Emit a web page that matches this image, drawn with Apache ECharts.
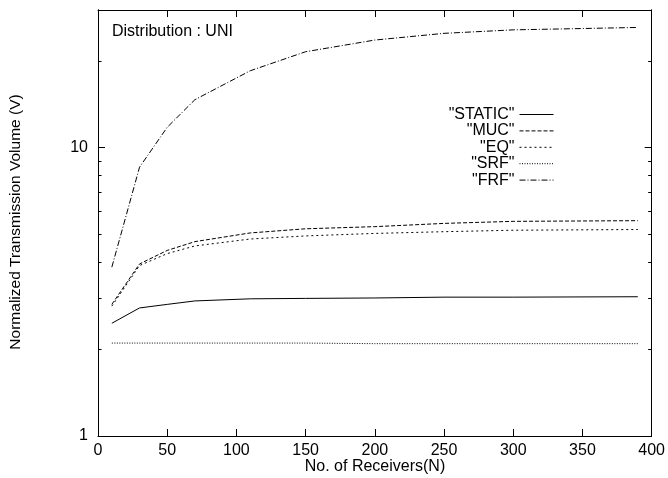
<!DOCTYPE html>
<html>
<head>
<meta charset="utf-8">
<script src="https://cdn.jsdelivr.net/npm/echarts@6/dist/echarts.min.js"></script>
<style>html,body{margin:0;padding:0;background:#fff}#c{width:668px;height:478px}</style>
</head>
<body>
<div id="c"></div>
<script>
const receivers = [10, 30, 50, 70, 110, 150, 200, 250, 300, 390];
const staticV = [2.46, 2.78, 2.86, 2.94, 2.99, 3.00, 3.01, 3.03, 3.03, 3.04];
const mucV    = [2.86, 3.95, 4.40, 4.72, 5.06, 5.23, 5.32, 5.46, 5.55, 5.58];
const eqV     = [2.82, 3.90, 4.29, 4.56, 4.82, 4.94, 5.04, 5.11, 5.17, 5.20];
const srfV    = [2.10, 2.10, 2.10, 2.10, 2.10, 2.10, 2.09, 2.09, 2.09, 2.09];
const frfV    = [3.85, 8.55, 11.76, 14.66, 18.47, 21.5, 23.6, 24.9, 25.6, 26.1];
const seriesNames = ['"STATIC"', '"MUC"', '"EQ"', '"SRF"', '"FRF"'];
const xTicks = [0, 50, 100, 150, 200, 250, 300, 350, 400];
const yMajor = [1, 10];
const yMinor = [2, 3, 4, 5, 6, 7, 8, 9, 20];
const title = 'Distribution : UNI';
const xName = 'No. of Receivers(N)';
const yName = 'Normalized Transmission Volume (V)';

const FONT = 'Liberation Sans, Arial, Helvetica, sans-serif';
const dashes = ['solid', [4, 2], [2, 3], [1, 1.5], [6, 2, 1, 2]];
const allVals = [staticV, mucV, eqV, srfV, frfV];

function pairs(v) { return receivers.map((x, i) => [x, v[i]]); }

const chart = echarts.init(document.getElementById('c'), null, {renderer: 'canvas'});

function yAx(pos, ticks, len, labels) {
  return {
    type: 'log', logBase: 10, min: 1, max: 30, position: pos,
    axisLine: {show: true, lineStyle: {color: '#000', width: 1}},
    axisTick: {show: true, inside: true, length: len, customValues: ticks, lineStyle: {color: '#000', width: 1}},
    axisLabel: labels ? {show: true, customValues: yMajor, margin: 10, color: '#000', fontSize: 16, fontFamily: FONT,
      formatter: v => String(Math.round(v))} : {show: false},
    splitLine: {show: false}, minorTick: {show: false}
  };
}

const legends = seriesNames.map((n, i) => ({
  data: [n], orient: 'vertical', right: 114, top: 106.5 + i * 16.4,
  align: 'right', itemWidth: 34, itemHeight: 16, itemGap: 0, padding: 0,
  itemStyle: {opacity: 0, color: 'rgba(0,0,0,0)', borderWidth: 0},
  lineStyle: {width: 1},
  textStyle: {color: '#000', fontSize: 16, lineHeight: 16, fontFamily: FONT},
  selectedMode: false
}));

const option = {
  animation: false,
  backgroundColor: '#fff',
  grid: {left: 98, right: 15, top: 10, bottom: 42},
  title: {text: title, left: 112, top: 24, padding: 0,
          textStyle: {color: '#000', fontSize: 16, fontWeight: 'normal', fontFamily: FONT}},
  legend: legends,
  xAxis: [
    {type: 'value', min: 0, max: 400, interval: 50, position: 'bottom',
     axisLine: {show: true, lineStyle: {color: '#000', width: 1}},
     axisTick: {show: true, inside: true, length: 7, customValues: xTicks, lineStyle: {color: '#000'}},
     axisLabel: {color: '#000', fontSize: 16, fontFamily: FONT, margin: 7, customValues: xTicks},
     splitLine: {show: false}},
    {type: 'value', min: 0, max: 400, interval: 50, position: 'top',
     axisLine: {show: true, lineStyle: {color: '#000', width: 1}},
     axisTick: {show: true, inside: true, length: 7, lineStyle: {color: '#000'}},
     axisLabel: {show: false}, splitLine: {show: false}}
  ],
  yAxis: [
    yAx('left', yMajor, 7, true),
    yAx('left', yMinor, 3.5, false),
    yAx('right', yMajor, 7, false),
    yAx('right', yMinor, 3.5, false)
  ],
  graphic: [
    {type: 'text', x: 375, y: 467,
     style: {text: xName, fill: '#000', font: '16px ' + FONT, align: 'center', verticalAlign: 'middle'}},
    {type: 'text', x: 16, y: 222, rotation: Math.PI / 2,
     style: {text: yName, fill: '#000', font: '15.5px ' + FONT, align: 'center', verticalAlign: 'middle'}}
  ],
  series: seriesNames.map((n, i) => ({
    name: n, type: 'line', xAxisIndex: 0, yAxisIndex: 0,
    data: pairs(allVals[i]), symbol: 'none', smooth: false,
    lineStyle: {color: '#000', width: 1, type: dashes[i]},
    itemStyle: {color: '#000'}
  }))
};
chart.setOption(option);
</script>
</body>
</html>
